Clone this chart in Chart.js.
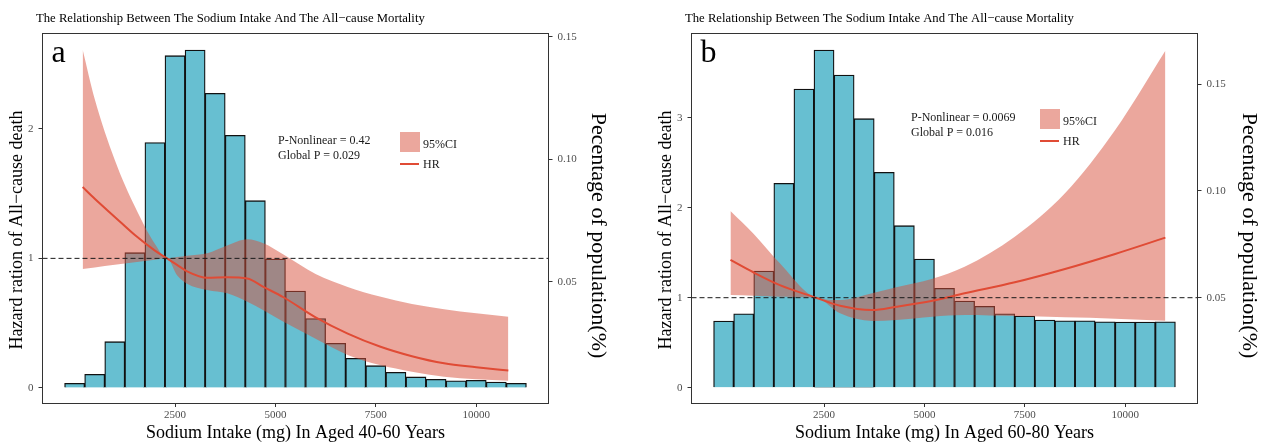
<!DOCTYPE html>
<html>
<head>
<meta charset="utf-8">
<script src="https://cdn.jsdelivr.net/npm/chart.js@4.4.1/dist/chart.umd.min.js"></script>
<style>
    html, body { margin: 0; padding: 0; background: #fff; overflow: hidden; width: 1263px; height: 444px; }
    canvas { position: absolute; top: 0; }
    #chartA { left: 0; }
    #chartB { left: 649px; }
</style>
</head>
<body>
<canvas id="chartA" width="640" height="444"></canvas>
<canvas id="chartB" width="640" height="444"></canvas>
<script>
// histogram bin centres (mg), same for both panels
const binCenters = [0, 500, 1000, 1500, 2000, 2500, 3000, 3500, 4000, 4500, 5000, 5500,
    6000, 6500, 7000, 7500, 8000, 8500, 9000, 9500, 10000, 10500, 11000];

// bar heights, read on the HR axis of each panel
const barsA = [0.036, 0.105, 0.357, 1.044, 1.893, 2.564, 2.608, 2.274, 1.95, 1.445, 0.995, 0.748,
    0.535, 0.345, 0.229, 0.172, 0.121, 0.085, 0.067, 0.056, 0.059, 0.046, 0.036];
const barsB = [0.741, 0.822, 1.297, 2.271, 3.319, 3.752, 3.474, 2.989, 2.393, 1.8, 1.43, 1.104,
    0.963, 0.904, 0.822, 0.796, 0.752, 0.744, 0.744, 0.733, 0.73, 0.73, 0.733];

// spline HR with 95%CI, panel a (40-60 years)
const curveXA = [200, 500, 1000, 1500, 2000, 2300, 2550, 2800, 3300, 3800, 4300, 4700, 5200,
    6000, 6800, 7600, 8400, 9200, 10000, 10800];
const hrA = [1.55, 1.46, 1.32, 1.18, 1.06, 1.0, 0.95, 0.90, 0.85, 0.855, 0.845, 0.78, 0.70,
    0.545, 0.42, 0.32, 0.245, 0.19, 0.16, 0.134];
const upperA = [2.61, 2.23, 1.76, 1.40, 1.11, 1.0, 1.01, 1.02, 1.04, 1.10, 1.147, 1.116, 1.03,
    0.88, 0.78, 0.705, 0.648, 0.607, 0.576, 0.55];
const lowerA = [0.918, 0.93, 0.95, 0.97, 0.99, 1.0, 0.87, 0.805, 0.756, 0.73, 0.665, 0.60, 0.51,
    0.38, 0.255, 0.177, 0.126, 0.087, 0.067, 0.056];

// panel b (60-80 years)
const curveXB = [170, 750, 1400, 2300, 2900, 3700, 4300, 5200, 6000, 7250, 8500, 9750, 11000];
const hrB = [1.42, 1.28, 1.14, 1.0, 0.91, 0.863, 0.90, 0.967, 1.049, 1.171, 1.319, 1.486, 1.667];
const upperB = [1.963, 1.708, 1.382, 1.0, 0.974, 1.049, 1.115, 1.21, 1.344, 1.678, 2.16, 2.863, 3.744];
const lowerB = [1.03, 1.022, 1.011, 1.0, 0.826, 0.741, 0.752, 0.789, 0.808, 0.796, 0.782, 0.767, 0.744];

// tick labels
const xTicks = [2500, 5000, 7500, 10000];
const yTicksA = [0, 1, 2];
const yTicksB = [0, 1, 2, 3];
const pctTicks = [0.05, 0.10, 0.15];

const refHR = 1;
const statsA = ["P-Nonlinear = 0.42", "Global P = 0.029"];
const statsB = ["P-Nonlinear = 0.0069", "Global P = 0.016"];

const titleText = "The Relationship Between The Sodium Intake And The All\u2212cause Mortality";
const yTitle = "Hazard ration of All\u2212cause death";
const y2Title = "Pecentage of population(%)";
const barColor = "#67BFD1";
const ciColor = "rgba(215, 80, 60, 0.5)";
const hrColor = "#E04B35";
const serif = "'Liberation Serif', 'Times New Roman', serif";

// 제목, 축 제목(세로), 통계값, 범례, 위쪽 테두리
const panelDecor = {
    id: "panelDecor",
    afterDraw(chart, args, o) {
        const ctx = chart.ctx;
        const a = chart.chartArea;
        ctx.save();
        ctx.strokeStyle = "#333";
        ctx.lineWidth = 1;
        ctx.beginPath();
        ctx.moveTo(a.left, Math.round(a.top) + 0.5);
        ctx.lineTo(a.right, Math.round(a.top) + 0.5);
        ctx.stroke();

        ctx.fillStyle = "#000";
        ctx.textAlign = "left";
        ctx.textBaseline = "middle";
        ctx.font = "12.7px " + serif;
        ctx.fillText(titleText, a.left - 6.5, 18.5);

        // vertical axis titles
        ctx.textAlign = "center";
        ctx.font = "18px " + serif;
        ctx.save();
        ctx.translate(17.5, 230);
        ctx.rotate(-Math.PI / 2);
        ctx.fillText(yTitle, 0, 0);
        ctx.restore();
        ctx.font = "22px " + serif;
        ctx.save();
        ctx.translate(o.y2TitleX, 235.5);
        ctx.rotate(Math.PI / 2);
        ctx.fillText(y2Title, 0, 0);
        ctx.restore();

        ctx.textAlign = "left";
        ctx.textBaseline = "alphabetic";
        ctx.font = "32px " + serif;
        ctx.fillText(o.letter, a.left + 9, 61.5);

        ctx.textBaseline = "middle";
        ctx.font = "12px " + serif;
        ctx.fillStyle = "#1a1a1a";
        o.stats.forEach((s, i) => ctx.fillText(s, o.statX, o.statY + i * 15));

        // legend
        ctx.fillStyle = ciColor;
        ctx.fillRect(o.legX, o.legY, 20, 20);
        ctx.strokeStyle = hrColor;
        ctx.lineWidth = 2;
        ctx.beginPath();
        ctx.moveTo(o.legX, o.legY + 32);
        ctx.lineTo(o.legX + 19, o.legY + 32);
        ctx.stroke();
        ctx.fillStyle = "#1a1a1a";
        ctx.fillText("95%CI", o.legX + 23, o.legY + 12.5);
        ctx.fillText("HR", o.legX + 23, o.legY + 33);
        ctx.restore();
    }
};

function pts(xs, ys) {
    return xs.map((x, i) => ({ x: x, y: ys[i] }));
}

function axisStyle(pad) {
    return {
        grid: { display: true, offset: false, drawOnChartArea: false, drawTicks: true, tickLength: 4, color: "#333", lineWidth: 1 },
        border: { display: true, color: "#333", width: 1 },
        ticks: { color: "#4d4d4d", font: { family: serif, size: 11 }, padding: pad, callback: (v) => String(v) }
    };
}

function makePanel(p) {
    const xMin = -800, xMax = 11800;
    const x = axisStyle(2);
    const y = axisStyle(5);
    const y2 = axisStyle(5);
    y2.ticks.callback = (v) => v.toFixed(2);

    new Chart(document.getElementById(p.canvas), {
        type: "bar",
        data: {
            datasets: [
                {
                    type: "line", data: [{ x: xMin, y: refHR }, { x: xMax, y: refHR }],
                    borderColor: "#1a1a1a", borderWidth: 1, borderDash: [5, 3], pointRadius: 0, order: 0
                },
                {
                    type: "line", data: pts(p.curveX, p.hr), borderColor: hrColor, borderWidth: 2,
                    pointRadius: 0, cubicInterpolationMode: "monotone", fill: false, order: 1
                },
                {
                    type: "line", data: pts(p.curveX, p.upper), borderWidth: 0, borderColor: "rgba(0,0,0,0)",
                    backgroundColor: ciColor, pointRadius: 0, cubicInterpolationMode: "monotone", fill: "+1", order: 3
                },
                {
                    type: "line", data: pts(p.curveX, p.lower), borderWidth: 0, borderColor: "rgba(0,0,0,0)",
                    pointRadius: 0, cubicInterpolationMode: "monotone", fill: false, order: 2
                },
                {
                    type: "bar", data: pts(binCenters, p.bars), backgroundColor: barColor,
                    borderColor: "#111", borderWidth: 1.3, barPercentage: 1, categoryPercentage: 1, order: 4
                }
            ]
        },
        options: {
            responsive: false,
            devicePixelRatio: 1,
            animation: false,
            layout: { padding: { top: 33, left: 0, right: 0, bottom: 0 } },
            plugins: {
                legend: { display: false },
                tooltip: { enabled: false },
                filler: { drawTime: "beforeDatasetDraw" },
                panelDecor: p.decor
            },
            scales: {
                x: Object.assign(x, {
                    type: "linear", position: "bottom", min: xMin, max: xMax, offset: false,
                    afterBuildTicks: (ax) => { ax.ticks = xTicks.map(v => ({ value: v })); },
                    afterFit: (ax) => { ax.height = 41; },
                    title: { display: true, text: p.xTitle, color: "#000", font: { family: serif, size: 18 }, padding: { top: 0, bottom: 0 } }
                }),
                y: Object.assign(y, {
                    type: "linear", position: "left", min: p.yMin, max: p.yMax,
                    afterBuildTicks: (ax) => { ax.ticks = p.yTicks.map(v => ({ value: v })); },
                    afterFit: (ax) => { ax.width = 42.5; }
                }),
                y2: Object.assign(y2, {
                    type: "linear", position: "right", min: p.y2Min, max: p.y2Max,
                    afterBuildTicks: (ax) => { ax.ticks = pctTicks.map(v => ({ value: v })); },
                    afterFit: (ax) => { ax.width = 91.5; }
                })
            }
        },
        plugins: [panelDecor]
    });
}

Chart.defaults.font.family = serif;

makePanel({
    canvas: "chartA", xTitle: "Sodium Intake (mg) In Aged 40-60 Years",
    bars: barsA, curveX: curveXA, hr: hrA, upper: upperA, lower: lowerA,
    yMin: -0.116, yMax: 2.739, yTicks: yTicksA, y2Min: 0.0005, y2Max: 0.1515,
    decor: { letter: "a", stats: statsA, statX: 278, statY: 141, legX: 400, legY: 132, y2TitleX: 597.5 }
});
makePanel({
    canvas: "chartB", xTitle: "Sodium Intake (mg) In Aged 60-80 Years",
    bars: barsB, curveX: curveXB, hr: hrB, upper: upperB, lower: lowerB,
    yMin: -0.17, yMax: 3.941, yTicks: yTicksB, y2Min: 0.00066, y2Max: 0.174,
    decor: { letter: "b", stats: statsB, statX: 262, statY: 118, legX: 391, legY: 109, y2TitleX: 600 }
});
</script>
</body>
</html>
